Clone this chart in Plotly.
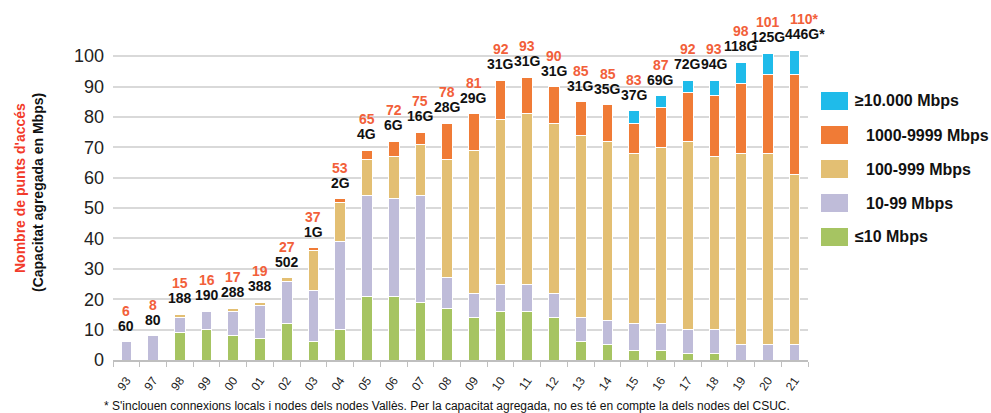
import plotly.graph_objects as go

years = ["93", "97", "98", "99", "00", "01", "02", "03", "04", "05", "06", "07", "08",
         "09", "10", "11", "12", "13", "14", "15", "16", "17", "18", "19", "20", "21"]
le10 = [0, 0, 9, 10, 8, 7, 12, 6, 10, 21, 21, 19, 17, 14, 16, 16, 14, 6, 5, 3, 3, 2, 2, 0, 0, 0]
m10_99 = [6, 8, 5, 6, 8, 11, 14, 17, 29, 33, 32, 35, 10, 8, 9, 9, 8, 8, 8, 9, 9, 8, 8, 5, 5, 5]
m100_999 = [0, 0, 1, 0, 1, 1, 1, 13, 13, 12, 14, 17, 39, 47, 54, 56, 56, 60, 59, 56, 58, 62, 57, 63, 63, 56]
m1000_9999 = [0, 0, 0, 0, 0, 0, 0, 1, 1, 3, 5, 4, 12, 12, 13, 12, 12, 11, 12, 10, 13, 16, 20, 23, 26, 33]
m10000 = [0, 0, 0, 0, 0, 0, 0, 0, 0, 0, 0, 0, 0, 0, 0, 0, 0, 0, 0, 4, 4, 4, 5, 7, 7, 8]
count_labels = ["6", "8", "15", "16", "17", "19", "27", "37", "53", "65", "72", "75", "78", "81",
                "92", "93", "90", "85", "85", "83", "87", "92", "93", "98", "101", "110*"]
cap_labels = ["60", "80", "188", "190", "288", "388", "502", "1G", "2G", "4G", "6G", "16G", "28G",
              "29G", "31G", "31G", "31G", "31G", "35G", "37G", "69G", "72G", "94G", "118G", "125G", "446G*"]
series_names = ["≤10 Mbps", "10-99 Mbps", "100-999 Mbps", "1000-9999 Mbps", "≥10.000 Mbps"]
series_vals = [le10, m10_99, m100_999, m1000_9999, m10000]
colors = ["#A6C462", "#BFBCD9", "#E3BF73", "#F07B36", "#1FBBEA"]

W, H = 991, 413
ML, MR, MT, MB = 113, 183, 44, 53
PW, PH = W - ML - MR, H - MT - MB


def px2x(px):
    return (px - ML) / PW


def py2y(py):
    return (H - MB - py) / PH


FONT = "Liberation Sans, Arial, sans-serif"
RED = "#F2603A"

fig = go.Figure()
for name, vals, col in zip(series_names, series_vals, colors):
    fig.add_trace(go.Bar(x=years, y=vals, name=name, marker_color=col,
                         marker_line_color="white", marker_line_width=1))

totals = [sum(v) for v in zip(*series_vals)]
annotations = []
for i, (tot, c, k) in enumerate(zip(totals, count_labels, cap_labels)):
    xs = 10 if k.endswith("*") else 0
    annotations.append(dict(x=i, y=tot, xref="x", yref="y", text=f"<b>{k}</b>", showarrow=False,
                            yanchor="bottom", yshift=6, xshift=xs,
                            font=dict(family=FONT, size=14, color="#111")))
    annotations.append(dict(x=i, y=tot, xref="x", yref="y", text=f"<b>{c}</b>", showarrow=False,
                            yanchor="bottom", yshift=21, xshift=xs,
                            font=dict(family=FONT, size=14, color=RED)))

# custom legend
shapes = []
leg_centers = [101, 135, 169, 203, 237]
leg_order = [4, 3, 2, 1, 0]
leg_text_x = [853, 864, 864, 864, 853]
for cy, idx, tx in zip(leg_centers, leg_order, leg_text_x):
    shapes.append(dict(type="rect", xref="paper", yref="paper",
                       x0=px2x(821), x1=px2x(848), y0=py2y(cy + 9), y1=py2y(cy - 9),
                       fillcolor=colors[idx], line=dict(width=0)))
    annotations.append(dict(xref="paper", yref="paper", x=px2x(tx), y=py2y(cy), xanchor="left",
                            yanchor="middle", showarrow=False, text=f"<b>{series_names[idx]}</b>",
                            font=dict(family=FONT, size=16, color="#111")))

# y-axis titles
annotations.append(dict(xref="paper", yref="paper", x=px2x(20), y=py2y(188), textangle=-90,
                        xanchor="center", yanchor="middle",
                        showarrow=False, text="<b>Nombre de punts d'accés</b>",
                        font=dict(family=FONT, size=14, color="#F23A2A")))
annotations.append(dict(xref="paper", yref="paper", x=px2x(38), y=py2y(193), textangle=-90,
                        xanchor="center", yanchor="middle",
                        showarrow=False, text="<b>(Capacitat agregada en Mbps)</b>",
                        font=dict(family=FONT, size=14, color="#111")))
# footnote
annotations.append(dict(xref="paper", yref="paper", x=px2x(102), y=py2y(406), xanchor="left",
                        yanchor="middle", showarrow=False,
                        text="* S'inclouen connexions locals i nodes dels nodes Vallès. Per la capacitat agregada, no es té en compte la dels nodes del CSUC.",
                        font=dict(family="Liberation Sans Narrow, Liberation Sans, Arial", size=12, color="#111")))

fig.update_layout(
    width=W, height=H, barmode="stack", bargap=0.6,
    margin=dict(l=ML, r=MR, t=MT, b=MB, autoexpand=False),
    plot_bgcolor="white", paper_bgcolor="white",
    showlegend=False,
    font=dict(family=FONT),
    annotations=annotations, shapes=shapes,
    xaxis=dict(type="category", showline=True, linecolor="#BFBFBF", linewidth=1.5,
               range=[-0.5, len(years) - 0.5], automargin=False,
               ticks="outside", tickson="boundaries", ticklen=5, tickcolor="#BFBFBF",
               ticklabelstandoff=7,
               tickangle=-55, tickfont=dict(family=FONT, size=12, color="#222"), showgrid=False),
    yaxis=dict(range=[0, 104], dtick=10, showgrid=True, gridcolor="#D9D9D9", gridwidth=1.5,
               zeroline=False, showline=False, ticklabelstandoff=8, automargin=False,
               tickfont=dict(family=FONT, size=18, color="#222")),
)

fig.write_html("out.html", config={"displayModeBar": False},
               post_script="document.body.style.margin='0px';")
